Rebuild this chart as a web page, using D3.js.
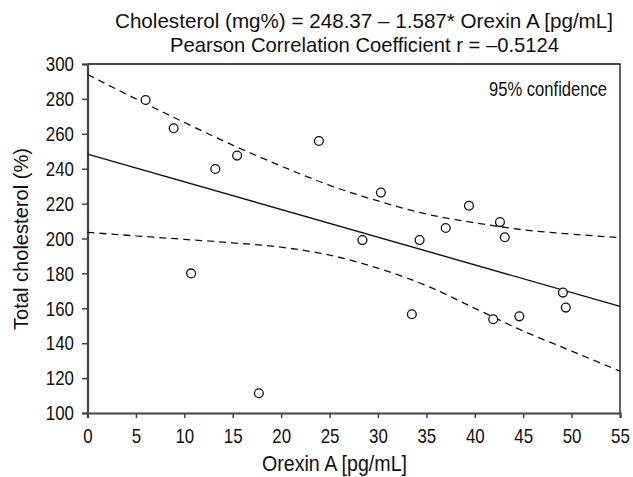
<!DOCTYPE html>
<html>
<head>
<meta charset="utf-8">
<script src="https://cdn.jsdelivr.net/npm/d3@7/dist/d3.min.js"></script>
<style>
  body { margin: 0; background: #fff; }
  svg text { font-family: "Liberation Sans", Arial, sans-serif; fill: #111; }
</style>
</head>
<body>
<div id="chart"></div>
<script>
// scatter data
var orexin = [6.0, 8.9, 10.7, 13.2, 15.45, 17.7, 23.9, 28.4, 30.3, 33.5, 34.3, 37.0, 39.4, 41.9, 42.6, 43.1, 44.6, 49.1, 49.4];
var cholesterol = [279.4, 263.2, 180.0, 239.8, 247.5, 111.3, 255.9, 199.1, 226.3, 156.6, 199.1, 206.0, 218.8, 153.7, 209.4, 200.7, 155.4, 169.0, 160.4];

// regression line (from title equation)
var fitIntercept = 248.37;
var fitSlope = -1.587;

// 95% confidence band
var bandX = [0, 5, 10, 15, 20, 25, 30, 35, 40, 45, 50, 55];
var bandUpper = [294, 280, 266.5, 253.5, 241.5, 230.5, 221.5, 214, 209, 205, 202.5, 200.5];
var bandLower = [203.5, 201.5, 199.5, 197.5, 195, 190.5, 183, 173, 160, 147, 135.5, 124];

var xTicks = [0, 5, 10, 15, 20, 25, 30, 35, 40, 45, 50, 55];
var yTicks = [100, 120, 140, 160, 180, 200, 220, 240, 260, 280, 300];

var width = 633;
var height = 477;
var margin = {top: 64, right: 13, bottom: 64, left: 87.5};

var svg = d3.select('#chart')
    .append('svg')
    .attr('width', width)
    .attr('height', height);

var x = d3.scaleLinear()
    .domain([0, 55])
    .range([margin.left, width - margin.right]);

var y = d3.scaleLinear()
    .domain([100, 300])
    .range([height - margin.bottom, margin.top]);

// narrow text: squeeze glyphs to the width seen in the picture
function label(px, py, size, len, str) {
    return svg.append('text')
        .attr('x', px)
        .attr('y', py)
        .attr('text-anchor', 'middle')
        .attr('textLength', len)
        .attr('lengthAdjust', 'spacingAndGlyphs')
        .style('font-size', size + 'px')
        .text(str);
}

// titles
label(364, 28, 21, 498, 'Cholesterol (mg%) = 248.37 \u2013 1.587* Orexin A [pg/mL]');
label(364.5, 52, 21, 389, 'Pearson Correlation Coefficient r = \u20130.5124');

// top and right frame
svg.append('path')
    .attr('d', 'M' + x(0) + ',' + y(300) + 'H' + x(55) + 'V' + y(100))
    .attr('fill', 'none')
    .attr('stroke', '#111')
    .attr('stroke-width', 1.3);

var xAxis = svg.append('g')
    .attr('transform', 'translate(0,' + y(100) + ')')
    .call(d3.axisBottom(x).tickValues(xTicks).tickSize(5).tickPadding(10));

var yAxis = svg.append('g')
    .attr('transform', 'translate(' + x(0) + ',0)')
    .call(d3.axisLeft(y).tickValues(yTicks).tickSize(5.5).tickPadding(8));

[xAxis, yAxis].forEach(function(g) {
    g.select('.domain').attr('stroke', '#444').attr('stroke-width', 2.2);
    g.selectAll('.tick line').attr('stroke', '#444').attr('stroke-width', 1.5);
    g.selectAll('.tick text')
        .style('font-size', '21px')
        .attr('fill', '#111')
        .attr('textLength', function(d) { return String(d).length * 9.4; })
        .attr('lengthAdjust', 'spacingAndGlyphs');
});

// axis labels
label(334.5, 471, 22, 145, 'Orexin A [pg/mL]');
label(0, 0, 21, 182, 'Total cholesterol (%)')
    .attr('transform', 'translate(28,239) rotate(-90)');

// confidence band
var bandLine = function(vals) {
    return d3.line()
        .x(function(d, i) { return x(bandX[i]); })
        .y(function(d) { return y(d); })
        .curve(d3.curveMonotoneX)(vals);
};

[bandUpper, bandLower].forEach(function(vals) {
    svg.append('path')
        .attr('d', bandLine(vals))
        .attr('fill', 'none')
        .attr('stroke', '#111')
        .attr('stroke-width', 1.3)
        .attr('stroke-dasharray', '7,5');
});

// regression line
svg.append('line')
    .attr('x1', x(0))
    .attr('y1', y(fitIntercept))
    .attr('x2', x(55))
    .attr('y2', y(fitIntercept + fitSlope * 55))
    .attr('stroke', '#111')
    .attr('stroke-width', 1.4);

// points
svg.selectAll('circle')
    .data(orexin)
    .enter()
    .append('circle')
    .attr('cx', function(d) { return x(d); })
    .attr('cy', function(d, i) { return y(cholesterol[i]); })
    .attr('r', 4.4)
    .attr('fill', '#fff')
    .attr('stroke', '#111')
    .attr('stroke-width', 1.3);

// legend note
label(548, 96, 20, 118, '95% confidence');
</script>
</body>
</html>
